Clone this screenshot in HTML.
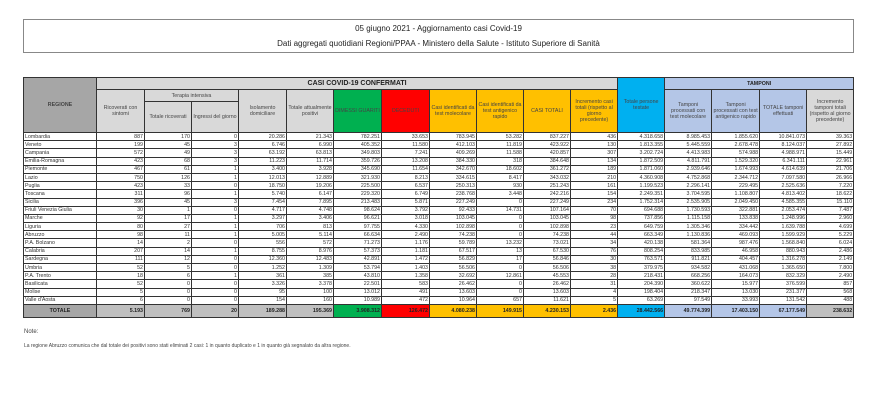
<!DOCTYPE html>
<html><head><meta charset="utf-8"><style>
body{margin:0;width:894px;height:415px;background:#fff;font-family:"Liberation Sans",sans-serif;position:relative;overflow:hidden}
.title{position:absolute;left:23px;top:19px;width:829px;height:32px;border:1px solid #888;text-align:center;font-size:8px;color:#222}
.title div{position:absolute;left:0;right:0}
table{position:absolute;left:23px;top:77px;border-collapse:collapse;table-layout:fixed;width:830px}
td{border:1px solid #333;padding:0 1px;font-size:5.3px;line-height:6px;overflow:hidden;white-space:nowrap;color:#333}
thead td{background:#d9d9d9;text-align:center;white-space:normal;font-size:5.3px;color:#444}
tbody td{height:7.2px;text-align:right;background:#fff}
tbody td:first-child{text-align:left}
tr.tot td{height:12px;background:#bfbfbf;font-weight:bold;color:#222}
.g{background:#00b050!important}.r{background:#ff0000!important}.o{background:#ffc000!important}.b{background:#00b0f0!important}.lb{background:#b4c6e7!important}.dg{background:#a6a6a6!important}
.note{position:absolute;left:24px;font-size:6px;color:#444}
</style></head><body>
<div class="title"><div style="top:4px">05 giugno 2021 - Aggiornamento casi Covid-19</div><div style="top:19px">Dati aggregati quotidiani Regioni/PPAA - Ministero della Salute - Istituto Superiore di Sanità</div></div>
<table>
<colgroup><col style="width:73px"><col style="width:48px"><col style="width:47px"><col style="width:47px"><col style="width:48px"><col style="width:47px"><col style="width:48px"><col style="width:48px"><col style="width:47px"><col style="width:47px"><col style="width:47px"><col style="width:47px"><col style="width:47px"><col style="width:47px"><col style="width:48px"><col style="width:47px"><col style="width:47px"></colgroup>
<thead>
<tr style="height:12px"><td rowspan="3" class="dg"><b>REGIONE</b></td><td colspan="11" style="font-size:7px;color:#222"><b>CASI COVID-19 CONFERMATI</b></td><td rowspan="3" class="b">Totale persone testate</td><td colspan="4" class="lb" style="color:#222"><b>TAMPONI</b></td></tr>
<tr style="height:12px"><td rowspan="2">Ricoverati con sintomi</td><td colspan="2">Terapia intensiva</td><td rowspan="2">Isolamento domiciliare</td><td rowspan="2">Totale attualmente positivi</td><td rowspan="2" class="g">DIMESSI GUARITI</td><td rowspan="2" class="r">DECEDUTI</td><td rowspan="2" class="o">Casi identificati da test molecolare</td><td rowspan="2" class="o">Casi identificati da test antigenico rapido</td><td rowspan="2" class="o">CASI TOTALI</td><td rowspan="2" class="o">Incremento casi totali (rispetto al giorno precedente)</td><td rowspan="2" class="lb">Tamponi processati con test molecolare</td><td rowspan="2" class="lb">Tamponi processati con test antigenico rapido</td><td rowspan="2" class="lb">TOTALE tamponi effettuati</td><td rowspan="2">Incremento tamponi totali (rispetto al giorno precedente)</td></tr>
<tr style="height:31px"><td>Totale ricoverati</td><td>Ingressi del giorno</td></tr>
</thead>
<tbody>
<tr><td>Lombardia</td><td>887</td><td>170</td><td>0</td><td>20.286</td><td>21.343</td><td>782.251</td><td>33.653</td><td>783.945</td><td>53.282</td><td>837.227</td><td>436</td><td>4.318.658</td><td>8.985.453</td><td>1.855.620</td><td>10.841.073</td><td>39.363</td></tr>
<tr><td>Veneto</td><td>199</td><td>45</td><td>3</td><td>6.746</td><td>6.990</td><td>405.352</td><td>11.580</td><td>412.103</td><td>11.819</td><td>423.922</td><td>130</td><td>1.813.355</td><td>5.445.559</td><td>2.678.478</td><td>8.124.037</td><td>27.892</td></tr>
<tr><td>Campania</td><td>572</td><td>49</td><td>3</td><td>63.192</td><td>63.813</td><td>349.803</td><td>7.241</td><td>409.269</td><td>11.588</td><td>420.857</td><td>307</td><td>3.202.724</td><td>4.413.983</td><td>574.988</td><td>4.988.971</td><td>15.449</td></tr>
<tr><td>Emilia-Romagna</td><td>423</td><td>68</td><td>3</td><td>11.223</td><td>11.714</td><td>359.726</td><td>13.208</td><td>384.330</td><td>318</td><td>384.648</td><td>134</td><td>1.872.509</td><td>4.811.791</td><td>1.529.320</td><td>6.341.111</td><td>22.961</td></tr>
<tr><td>Piemonte</td><td>467</td><td>61</td><td>1</td><td>3.400</td><td>3.928</td><td>345.690</td><td>11.654</td><td>342.670</td><td>18.602</td><td>361.272</td><td>189</td><td>1.871.060</td><td>2.939.646</td><td>1.674.993</td><td>4.614.639</td><td>21.706</td></tr>
<tr><td>Lazio</td><td>750</td><td>126</td><td>1</td><td>12.013</td><td>12.889</td><td>321.930</td><td>8.213</td><td>334.615</td><td>8.417</td><td>343.032</td><td>210</td><td>4.360.908</td><td>4.752.868</td><td>2.344.712</td><td>7.097.580</td><td>26.966</td></tr>
<tr><td>Puglia</td><td>423</td><td>33</td><td>0</td><td>18.750</td><td>19.206</td><td>225.500</td><td>6.537</td><td>250.313</td><td>930</td><td>251.243</td><td>161</td><td>1.199.523</td><td>2.296.141</td><td>229.495</td><td>2.525.636</td><td>7.220</td></tr>
<tr><td>Toscana</td><td>311</td><td>96</td><td>1</td><td>5.740</td><td>6.147</td><td>229.320</td><td>6.749</td><td>238.768</td><td>3.448</td><td>242.216</td><td>154</td><td>2.249.351</td><td>3.704.595</td><td>1.108.807</td><td>4.813.402</td><td>18.622</td></tr>
<tr><td>Sicilia</td><td>396</td><td>45</td><td>3</td><td>7.454</td><td>7.895</td><td>213.483</td><td>5.871</td><td>227.249</td><td>0</td><td>227.249</td><td>234</td><td>1.752.314</td><td>2.535.905</td><td>2.049.450</td><td>4.585.355</td><td>15.110</td></tr>
<tr><td>Friuli Venezia Giulia</td><td>30</td><td>1</td><td>0</td><td>4.717</td><td>4.748</td><td>98.624</td><td>3.792</td><td>92.433</td><td>14.731</td><td>107.164</td><td>70</td><td>694.688</td><td>1.730.593</td><td>322.881</td><td>2.053.474</td><td>7.487</td></tr>
<tr><td>Marche</td><td>92</td><td>17</td><td>1</td><td>3.297</td><td>3.406</td><td>96.621</td><td>3.018</td><td>103.045</td><td>0</td><td>103.045</td><td>98</td><td>737.856</td><td>1.115.158</td><td>133.838</td><td>1.248.996</td><td>2.960</td></tr>
<tr><td>Liguria</td><td>80</td><td>27</td><td>1</td><td>706</td><td>813</td><td>97.755</td><td>4.330</td><td>102.898</td><td>0</td><td>102.898</td><td>23</td><td>649.759</td><td>1.305.346</td><td>334.442</td><td>1.639.788</td><td>4.699</td></tr>
<tr><td>Abruzzo</td><td>98</td><td>11</td><td>1</td><td>5.005</td><td>5.114</td><td>66.634</td><td>2.490</td><td>74.238</td><td>0</td><td>74.238</td><td>44</td><td>663.349</td><td>1.130.836</td><td>469.093</td><td>1.599.929</td><td>5.229</td></tr>
<tr><td>P.A. Bolzano</td><td>14</td><td>2</td><td>0</td><td>556</td><td>572</td><td>71.273</td><td>1.176</td><td>59.789</td><td>13.232</td><td>73.021</td><td>34</td><td>420.138</td><td>581.364</td><td>987.476</td><td>1.568.840</td><td>6.024</td></tr>
<tr><td>Calabria</td><td>207</td><td>14</td><td>1</td><td>8.755</td><td>8.976</td><td>57.373</td><td>1.181</td><td>67.517</td><td>13</td><td>67.530</td><td>76</td><td>808.254</td><td>833.985</td><td>46.958</td><td>880.943</td><td>2.486</td></tr>
<tr><td>Sardegna</td><td>111</td><td>12</td><td>0</td><td>12.360</td><td>12.483</td><td>42.891</td><td>1.472</td><td>56.829</td><td>17</td><td>56.846</td><td>30</td><td>763.571</td><td>911.821</td><td>404.457</td><td>1.316.278</td><td>2.149</td></tr>
<tr><td>Umbria</td><td>52</td><td>5</td><td>0</td><td>1.252</td><td>1.309</td><td>53.794</td><td>1.403</td><td>56.506</td><td>0</td><td>56.506</td><td>38</td><td>379.975</td><td>934.582</td><td>431.068</td><td>1.365.650</td><td>7.800</td></tr>
<tr><td>P.A. Trento</td><td>18</td><td>6</td><td>1</td><td>361</td><td>385</td><td>43.810</td><td>1.358</td><td>32.692</td><td>12.861</td><td>45.553</td><td>28</td><td>218.431</td><td>668.256</td><td>164.073</td><td>832.329</td><td>2.490</td></tr>
<tr><td>Basilicata</td><td>52</td><td>0</td><td>0</td><td>3.326</td><td>3.378</td><td>22.501</td><td>583</td><td>26.462</td><td>0</td><td>26.462</td><td>31</td><td>204.390</td><td>360.622</td><td>15.977</td><td>376.599</td><td>857</td></tr>
<tr><td>Molise</td><td>5</td><td>0</td><td>0</td><td>95</td><td>100</td><td>13.012</td><td>491</td><td>13.603</td><td>0</td><td>13.603</td><td>4</td><td>198.404</td><td>218.347</td><td>13.030</td><td>231.377</td><td>568</td></tr>
<tr><td>Valle d'Aosta</td><td>6</td><td>0</td><td>0</td><td>154</td><td>160</td><td>10.989</td><td>472</td><td>10.964</td><td>657</td><td>11.621</td><td>5</td><td>63.269</td><td>97.549</td><td>33.993</td><td>131.542</td><td>488</td></tr>
<tr class="tot"><td class="dg" style="text-align:center">TOTALE</td><td>5.193</td><td>769</td><td>20</td><td>189.288</td><td>195.369</td><td class="g">3.908.312</td><td class="r">126.472</td><td class="o">4.080.238</td><td class="o">149.915</td><td class="o">4.230.153</td><td class="o">2.436</td><td class="b">28.442.566</td><td class="lb">49.774.399</td><td class="lb">17.403.150</td><td class="lb">67.177.549</td><td>238.632</td></tr>
</tbody></table>
<div class="note" style="top:329px">Note:</div>
<div class="note" style="top:343px;font-size:5px">La regione Abruzzo comunica che dal totale dei positivi sono stati eliminati 2 casi: 1 in quanto duplicato e 1 in quanto già segnalato da altra regione.</div>
</body></html>
